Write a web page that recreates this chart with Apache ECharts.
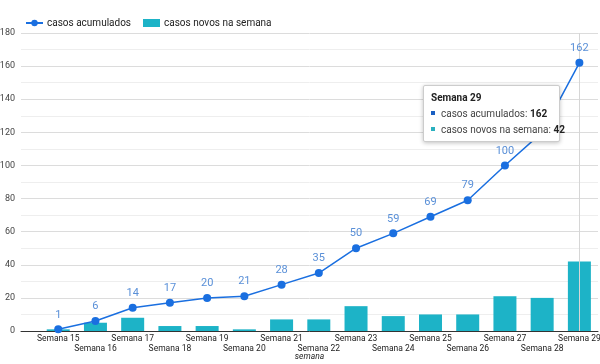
<!DOCTYPE html>
<html><head><meta charset="utf-8">
<script src="https://cdn.jsdelivr.net/npm/echarts@6/dist/echarts.min.js"></script>
<style>html,body{margin:0;padding:0;background:#fff}#c{width:600px;height:364px}</style>
</head><body><div id="c"></div>
<script>
const categories = ['Semana 15','Semana 16','Semana 17','Semana 18','Semana 19','Semana 20','Semana 21','Semana 22','Semana 23','Semana 24','Semana 25','Semana 26','Semana 27','Semana 28','Semana 29'];
const acumulados = [1,6,14,17,20,21,28,35,50,59,69,79,100,120,162];
const novos = [1,5,8,3,3,1,7,7,15,9,10,10,21,20,42];
const yTicks = [0,20,40,60,80,100,120,140,160,180];
const highlightIndex = 14;

const chart = echarts.init(document.getElementById('c'));
const lineColor = '#1a6fe0';
const barColor = '#1db3c7';
chart.setOption({
  animation: false,
  textStyle: {fontFamily: 'Roboto, Arial, sans-serif'},
  legend: {
    left: 20, top: 13, itemGap: 12, itemWidth: 17, itemHeight: 8,
    textStyle: {fontSize: 10, color: '#222', padding: [0,0,0,-1]},
    data: [{name: 'casos acumulados'}, {name: 'casos novos na semana', icon: 'rect', itemStyle:{color:barColor}}]
  },
  grid: {left: 21, right: 2, top: 33, bottom: 33, outerBoundsMode: 'none', containLabel: false},
  tooltip: {
    trigger: 'item', alwaysShowContent: true, showContent: true,
    padding: 0, borderColor: '#ccc', borderWidth: 1, borderRadius: 2,
    backgroundColor: '#fff',
    extraCssText: 'box-shadow:0 1px 4px rgba(0,0,0,0.25);',
    position: function(){ return [423, 85]; },
    formatter: function(p){
      const i = p.dataIndex;
      const sq = c => '<span style="display:inline-block;width:4px;height:4px;background:'+c+';margin-right:6px;vertical-align:middle;position:relative;top:-1px"></span>';
      return '<div style="font-family:Roboto,Arial,sans-serif;font-size:10px;color:#222;padding:4px 12px 3px 7px;line-height:16px;width:116px">'
        + '<div style="font-weight:bold">'+categories[i]+'</div>'
        + '<div style="white-space:nowrap">'+sq('#1a5fc2')+'<span style="color:#444">casos acumulados: </span><b>'+acumulados[i]+'</b></div>'
        + '<div style="white-space:nowrap">'+sq('#2ab0bf')+'<span style="color:#444">casos novos na semana: </span><b>'+novos[i]+'</b></div>'
        + '</div>';
    }
  },
  xAxis: {
    type: 'value', min: -1, max: 14.5, interval: 1,
    name: 'semana', nameLocation: 'middle', nameGap: 21, nameMoveOverlap: false,
    nameTextStyle: {fontSize: 8.5, fontStyle: 'italic', color: '#222'},
    axisLine: {show: true, lineStyle: {color: '#333', width: 1}},
    axisTick: {show: false},
    splitLine: {show: false},
    axisLabel: {
      fontSize: 8.5, color: '#222', margin: 3, lineHeight: 10,
      showMinLabel: false, showMaxLabel: false, hideOverlap: false,
      formatter: function(v){
        if (v < 0 || v > 14 || Math.round(v) !== v) return '';
        return (v % 2 === 0 ? '' : '\n') + categories[v];
      }
    }
  },
  yAxis: {
    type: 'value', min: 0, max: 180, interval: 20,
    axisLine: {show: false}, axisTick: {show: false},
    axisLabel: {fontSize: 9, color: '#444', margin: 6, formatter: v => yTicks.includes(v) ? String(v) : ''},
    splitLine: {lineStyle: {color: '#dcdcdc'}},
    minorTick: {show: false, splitNumber: 2},
    minorSplitLine: {show: true, lineStyle: {color: '#eeeeee'}}
  },
  series: [
    {
      name: 'casos acumulados', type: 'line', z: 5,
      data: acumulados.map((v,i)=>[i,v]),
      symbol: 'circle', symbolSize: 8,
      itemStyle: {color: lineColor},
      lineStyle: {color: lineColor, width: 1.5},
      label: {show: true, position: 'top', distance: 5, fontSize: 11, color: '#5a90d8'},
      emphasis: {disabled: true}
    },
    {
      name: 'casos novos na semana', type: 'bar', barWidth: 23, z: 2,
      data: novos.map((v,i)=>[i,v]),
      itemStyle: {color: barColor},
      emphasis: {disabled: true},
      markLine: {
        silent: true, symbol: ['none','none'], label: {show: false},
        lineStyle: {color: '#d6d6d6', type: 'solid', width: 1},
        data: [{xAxis: highlightIndex}]
      }
    }
  ]
});
chart.dispatchAction({type: 'showTip', seriesIndex: 0, dataIndex: highlightIndex});
</script></body></html>
